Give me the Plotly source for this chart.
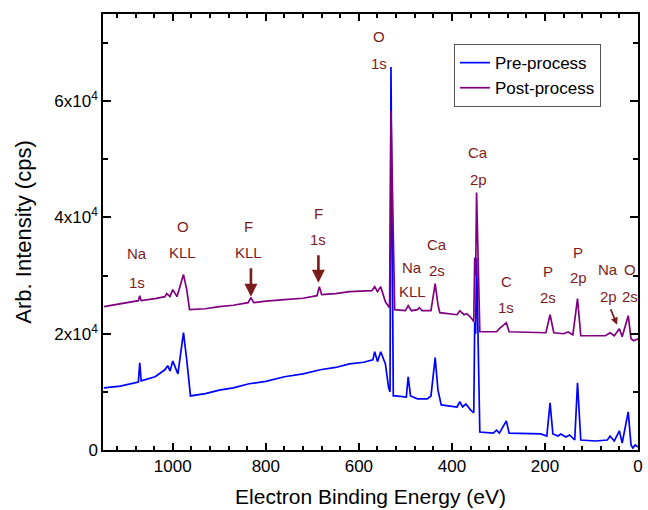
import plotly.graph_objects as go

# ---------------- data ----------------
pre_energy = [1148, 1113, 1074, 1071, 1068, 1038, 1017, 1011, 1006, 1000, 989, 977, 970, 962,
              930, 900, 870, 836, 800, 760, 720, 683, 650, 620, 590, 570, 566, 560, 553, 543, 536, 533, 531, 526,
              521, 498, 494, 489, 474, 453, 445, 436, 430, 423, 389, 383, 377, 370, 360, 353,
              351, 349, 347, 340, 311, 304, 298, 283, 277, 240, 209, 196, 189, 183, 172, 166,
              155, 147, 136, 130, 123, 91, 66, 60, 51, 40, 34, 21, 15, 11, 6, 0]
pre_counts = [10700, 11000, 11700, 15000, 11900, 12600, 13800, 14500, 13600, 15300, 13100, 20200, 15500, 9300,
              9700, 10300, 10700, 11400, 11800, 12600, 13100, 13800, 14200, 14800, 15100, 15500, 16900, 15200, 16900, 14800, 10700, 10000, 65900, 9300,
              9300, 9100, 12600, 9300, 8800, 8800, 9300, 15900, 10300, 7760, 7400, 8300, 7400, 7900, 6900, 6400,
              22000, 20000, 33000, 3100, 2900, 3400, 2900, 5000, 2900, 2760, 2760, 2400, 8100, 2760, 2400, 2760,
              2240, 2590, 1720, 11550, 1720, 1550, 1720, 2400, 1550, 3280, 1200, 6550, 860, 340, 860, 520]

post_energy = [1148, 1113, 1074, 1071, 1068, 1038, 1017, 1013, 1006, 1000, 991, 977, 970, 964,
               930, 900, 870, 838, 832, 826, 800, 760, 720, 690, 685, 680, 650, 620, 590, 572, 566, 560, 553, 543, 534, 531, 523,
               500, 494, 487, 474, 470, 464, 445, 436, 430, 426, 389, 383, 374, 368, 357, 353,
               351, 349, 347, 340, 304, 298, 283, 277, 198, 189, 181, 160, 150, 140,
               130, 123, 70, 60, 51, 40, 34, 21, 15, 9, 0]
post_counts = [24650, 25170, 25690, 26550, 25690, 26030, 26380, 26900, 26380, 27580, 26380, 30170, 27580, 24140,
               24300, 24650, 24900, 25340, 26200, 25340, 25600, 25860, 26100, 26550, 28100, 26720, 26900, 27240, 27300, 27410, 28100, 27240, 28100, 25500, 24480, 58300, 24140,
               23960, 24830, 23960, 24140, 24480, 23960, 23960, 28620, 25000, 23620, 23270, 23960, 23270, 23450, 22580, 22070,
               33100, 30000, 44300, 20340, 20340, 20860, 21900, 20340, 20170, 23270, 20170, 20000, 20300, 19800,
               26030, 19650, 19650, 20170, 19650, 20860, 19480, 23100, 19140, 18790, 19140]

# peak labels: (energy, intensity of first line, intensity of second line, line1, line2)
label_energy = [1077, 979, 838, 687, 557, 485, 432, 343, 283, 194, 128, 64, 17]
label_y1 = [33790, 38450, 38450, 40690, 71200, 31380, 35340, 51200, 28960, 30690, 33960, 31030, 31030]
label_y2 = [28790, 33960, 33960, 36200, 66550, 27240, 30860, 46550, 24480, 26200, 29650, 26380, 26380]
label_top = ["Na", "O", "F", "F", "O", "Na", "Ca", "Ca", "C", "P", "P", "Na", "O"]
label_bottom = ["1s", "KLL", "KLL", "1s", "1s", "KLL", "2s", "2p", "1s", "2s", "2p", "2p", "2s"]

# arrows: tip position (energy, intensity)
arrow_energy = [832, 687, 45]
arrow_counts = [26380, 28790, 21550]

x_tickvals = [1000, 800, 600, 400, 200, 0]
y_tickvals = [0, 20000, 40000, 60000]
y_ticktext = ["0", "2x10<sup>4</sup>", "4x10<sup>4</sup>", "6x10<sup>4</sup>"]

FONT = "Liberation Sans, Arial, sans-serif"
LABEL_COLOR = "#7B1C1C"

fig = go.Figure()
fig.add_trace(go.Scatter(x=pre_energy, y=pre_counts, mode="lines", name="Pre-process",
                         line=dict(color="#0000FF", width=1.7)))
fig.add_trace(go.Scatter(x=post_energy, y=post_counts, mode="lines", name="Post-process",
                         line=dict(color="#800080", width=1.7)))

for e, y1, y2, t1, t2 in zip(label_energy, label_y1, label_y2, label_top, label_bottom):
    for yy, tt in ((y1, t1), (y2, t2)):
        fig.add_annotation(x=e, y=yy, text=tt, showarrow=False, xref="x", yref="y",
                           xanchor="center", yanchor="middle",
                           font=dict(family=FONT, size=15, color=LABEL_COLOR))

arrow_styles = [(0, -30, 2.6, 1.0), (0, -29, 2.6, 1.0), (-7, -17, 1.8, 0.8)]
for (e, c), (ax, ay, w, s) in zip(zip(arrow_energy, arrow_counts), arrow_styles):
    fig.add_annotation(x=e, y=c, text="", showarrow=True, ax=ax, ay=ay,
                       arrowhead=2, arrowsize=s, arrowwidth=w, arrowcolor=LABEL_COLOR,
                       standoff=0, startstandoff=0)

axis_common = dict(showline=True, linecolor="black", linewidth=1.5, mirror="allticks",
                   ticks="inside", tickcolor="black", tickwidth=1.5, showgrid=False, zeroline=False,
                   tickfont=dict(family=FONT, size=17, color="black"))

fig.update_xaxes(range=[1150, 0], tickvals=x_tickvals, ticklen=7,
                 minor=dict(dtick=40, tick0=0, ticks="inside", ticklen=4, tickcolor="black", tickwidth=1.5),
                 title=dict(text="Electron Binding Energy (eV)", standoff=14,
                            font=dict(family=FONT, size=21, color="black")),
                 **axis_common)
fig.update_yaxes(range=[0, 75000], tickvals=y_tickvals, ticktext=y_ticktext, ticklen=8,
                 minor=dict(dtick=10000, tick0=0, ticks="inside", ticklen=5, tickcolor="black", tickwidth=1.5),
                 title=dict(text="Arb. Intensity (cps)", standoff=17,
                            font=dict(family=FONT, size=22, color="black")),
                 **axis_common)

fig.update_layout(
    width=648, height=510,
    margin=dict(l=103, r=5, t=14, b=60),
    plot_bgcolor="white", paper_bgcolor="white",
    font=dict(family=FONT, size=15, color="black"),
    legend=dict(x=0.656, y=0.931, xanchor="left", yanchor="top",
                bordercolor="#555555", borderwidth=1, bgcolor="white",
                font=dict(family=FONT, size=17, color="black"),
                tracegroupgap=0, itemwidth=30),
    showlegend=True,
)

fig.write_html("out.html")
